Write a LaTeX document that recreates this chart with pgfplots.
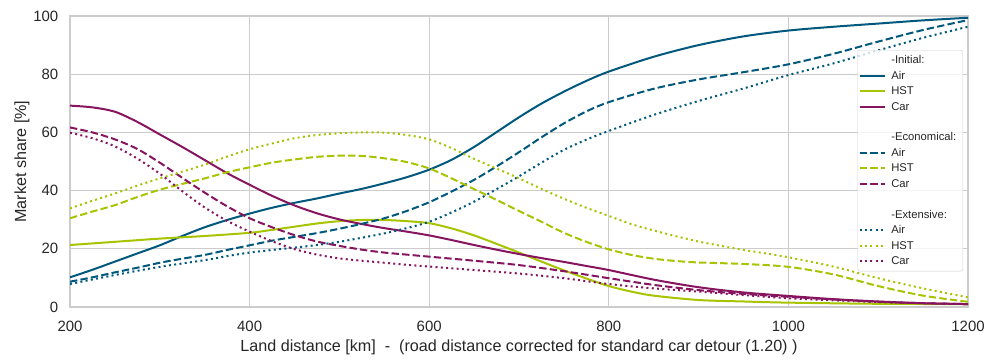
\documentclass[border=0pt]{standalone}
\usepackage{fontspec}
\setmainfont{Liberation Sans}
\usepackage{pgfplots}
\pgfplotsset{compat=1.18}
\definecolor{cair}{HTML}{00587C}
\definecolor{chst}{HTML}{A8C300}
\definecolor{ccar}{HTML}{87145F}
\definecolor{gridc}{HTML}{CCCCCC}
\definecolor{txt}{HTML}{262626}
\newcommand\legtxt[1]{\makebox[68.5bp][l]{\strut #1}}
\begin{document}
\begin{tikzpicture}[x=1bp,y=1bp]
\path[use as bounding box] (0,0) rectangle (987,359);
\begin{axis}[
  at={(70bp,52bp)}, anchor=south west,
  scale only axis, width=898bp, height=291bp,
  xmin=200, xmax=1200, ymin=0, ymax=100,
  xtick={200,400,...,1200}, ytick={0,20,...,100},
  grid=major, major grid style={gridc, line width=1bp},
  axis line style={gridc, line width=1.25bp},
  tick style={draw=none},
  /pgf/number format/assume math mode=true,
  /pgf/number format/1000 sep={},
  ticklabel style={font=\fontsize{15}{17}\selectfont, text=txt},
  xticklabel style={anchor=base, yshift=-24.5bp},
  yticklabel style={anchor=east, inner sep=0pt, xshift=-11.5bp},
  every axis x label/.style={at={(rel axis cs:0.5,0)}, anchor=base, yshift=-44.5bp, font=\fontsize{16.2}{18}\selectfont, text=txt},
  every axis y label/.style={at={(rel axis cs:0,0.5)}, xshift=-48bp, rotate=90, anchor=center, font=\fontsize{16.2}{18}\selectfont, text=txt},
  xlabel={Land distance [km]\ \ -\ \ (road distance corrected for standard car detour (1.20) )},
  ylabel={Market share [\%]},
  every axis plot/.append style={line width=2bp, line cap=butt},
  legend image code/.code={\draw[#1] (0bp,0bp) -- (25bp,0bp);},
  legend cell align=left,
  legend style={at={(rel axis cs:0.9944,0.883)}, anchor=north east,
    draw=gridc, rounded corners=2bp, fill=white, fill opacity=0.8, text opacity=1,
    font=\fontsize{11.3}{12}\selectfont, text=txt, row sep=1.6bp,
    inner xsep=1bp, inner ysep=3bp, column sep=3.5bp, nodes={inner sep=2bp}},
]
\addlegendimage{empty legend}\addlegendentry{\legtxt{-Initial:}}
\addplot[cair, smooth] coordinates {(200,10.2)(225,12.8)(250,15.6)(275,18.4)(300,21.2)(325,24.4)(350,27.4)(375,29.9)(400,32.1)(425,34.1)(450,35.8)(475,37.3)(500,39)(525,40.6)(550,42.5)(575,44.6)(600,47.2)(625,50.6)(650,55)(675,60.1)(700,65.2)(725,69.9)(750,74)(775,77.7)(800,80.9)(850,86)(900,90)(950,93)(1000,95)(1050,96.3)(1100,97.4)(1150,98.5)(1200,99.4)};
\addlegendentry{\legtxt{Air}}
\addplot[chst, smooth] coordinates {(200,21.3)(250,22.4)(300,23.5)(350,24.4)(400,25.5)(425,26.5)(450,27.6)(475,28.7)(500,29.5)(525,29.9)(550,29.9)(575,29.5)(600,28.8)(625,27)(650,24.6)(675,21.7)(700,18.7)(725,15.6)(750,12.6)(775,9.8)(800,7.2)(825,5.3)(850,3.9)(900,2.4)(950,1.9)(1000,1.5)(1100,1.1)(1200,1)};
\addlegendentry{\legtxt{HST}}
\addplot[ccar, smooth] coordinates {(200,69.2)(225,68.6)(250,67.1)(275,63.6)(300,59.3)(325,55)(350,50.5)(375,46)(400,42)(425,38.2)(450,34.9)(475,32.2)(500,30.1)(525,28.5)(550,27.1)(575,25.9)(600,24.6)(625,23)(650,21.3)(675,19.7)(700,18.2)(725,16.8)(750,15.5)(775,14.1)(800,12.7)(850,9.4)(900,6.8)(950,5)(1000,3.8)(1050,2.7)(1100,1.9)(1150,1.3)(1200,1)};
\addlegendentry{\legtxt{Car}}
\addlegendimage{empty legend}\addlegendentry{\legtxt{}}
\addlegendimage{empty legend}\addlegendentry{\legtxt{-Economical:}}
\addplot[cair, smooth, dash pattern=on 7.4bp off 3.2bp] coordinates {(200,8.7)(225,10.2)(250,11.9)(275,13.5)(300,15.2)(325,16.6)(350,17.9)(375,19.6)(400,21.2)(425,22.8)(450,24.1)(475,25.4)(500,26.9)(525,28.6)(550,30.5)(575,33)(600,36)(625,39.7)(650,43.7)(675,48.3)(700,53.2)(725,58.3)(750,63.1)(775,67.2)(800,70.4)(850,75)(900,78.2)(950,80.7)(1000,83.4)(1050,87)(1100,91.2)(1150,95.2)(1200,98.6)};
\addlegendentry{\legtxt{Air}}
\addplot[chst, smooth, dash pattern=on 7.4bp off 3.2bp] coordinates {(200,30.5)(225,32.8)(250,35)(275,37.8)(300,40.3)(325,42.3)(350,44.2)(375,46.3)(400,48)(425,49.6)(450,50.7)(475,51.6)(500,52)(525,51.9)(550,51.1)(575,49.8)(600,47.6)(625,44.2)(650,40.5)(675,36.8)(700,33)(725,29.3)(750,25.5)(775,22.4)(800,19.8)(825,17.9)(850,16.6)(875,15.8)(900,15.3)(950,14.8)(1000,13.8)(1050,11.2)(1100,7.2)(1150,3.9)(1200,1.8)};
\addlegendentry{\legtxt{HST}}
\addplot[ccar, smooth, dash pattern=on 7.4bp off 3.2bp] coordinates {(200,61.7)(225,60)(250,57.6)(275,54.3)(300,49.6)(325,44.4)(350,39.3)(375,34.6)(400,30.5)(425,27.4)(450,24.7)(475,22.5)(500,21)(525,19.7)(550,18.7)(575,18)(600,17.3)(650,15.9)(700,14.4)(750,12.3)(800,9.9)(850,7.6)(900,5.8)(950,4.5)(1000,3.5)(1050,2.6)(1100,1.8)(1150,1.3)(1200,1)};
\addlegendentry{\legtxt{Car}}
\addlegendimage{empty legend}\addlegendentry{\legtxt{}}
\addlegendimage{empty legend}\addlegendentry{\legtxt{-Extensive:}}
\addplot[cair, smooth, dash pattern=on 2bp off 3.3bp] coordinates {(200,7.9)(250,11)(300,13.8)(350,16.1)(375,17.5)(400,18.7)(425,19.6)(450,20.4)(475,21.3)(500,22.4)(525,23.8)(550,25.3)(575,27.1)(600,29.3)(625,32.5)(650,36.2)(675,40.5)(700,44.9)(725,49.6)(750,54)(775,57.5)(800,60.5)(850,66)(900,70.8)(950,75.1)(1000,79.7)(1050,83.7)(1100,88.2)(1150,92.5)(1200,96.3)};
\addlegendentry{\legtxt{Air}}
\addplot[chst, smooth, dash pattern=on 2bp off 3.3bp] coordinates {(200,33.9)(225,36.5)(250,39)(275,41.7)(300,44.2)(325,46.5)(350,48.9)(375,51.7)(400,54.2)(425,56.2)(450,58)(475,59.1)(500,59.7)(525,60)(550,59.9)(575,59.1)(600,57.6)(625,54.6)(650,50.9)(675,47.6)(700,44.2)(725,40.6)(750,37.2)(775,34.1)(800,31.3)(825,28.5)(850,26.3)(875,24.3)(900,22.5)(925,21)(950,19.6)(975,18.4)(1000,17.1)(1050,13.9)(1100,9.9)(1150,6.4)(1200,3.3)};
\addlegendentry{\legtxt{HST}}
\addplot[ccar, smooth, dash pattern=on 2bp off 3.3bp] coordinates {(200,59.9)(225,58)(250,55.2)(275,51)(300,45.8)(325,39.8)(350,34.2)(375,29.6)(400,25.9)(425,22.6)(450,19.9)(475,18)(500,16.7)(525,15.9)(550,15.2)(575,14.5)(600,13.9)(650,12.7)(700,11.5)(750,9.9)(800,7.9)(850,6.4)(900,5.3)(950,4.1)(1000,3)(1050,2.3)(1100,1.7)(1150,1.3)(1200,1)};
\addlegendentry{\legtxt{Car}}
\end{axis}
\end{tikzpicture}
\end{document}
